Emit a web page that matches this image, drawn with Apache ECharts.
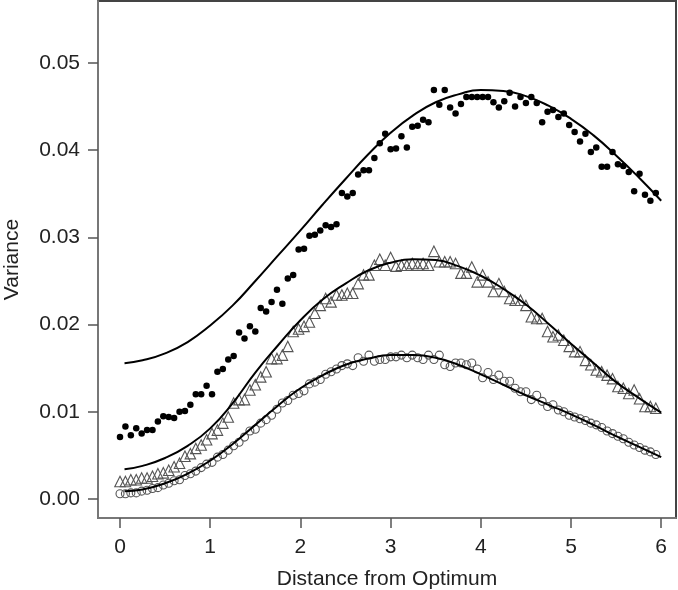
<!DOCTYPE html>
<html>
<head>
<meta charset="utf-8">
<script src="https://cdn.jsdelivr.net/npm/echarts@6/dist/echarts.min.js"></script>
<style>html,body{margin:0;padding:0;background:#fff;}#c{width:678px;height:590px;}</style>
</head>
<body>
<div id="c"></div>
<script>
// Tick labels
const xTicks = [0, 1, 2, 3, 4, 5, 6];
const yTicks = [0.00, 0.01, 0.02, 0.03, 0.04, 0.05];

// Observation positions (distance from optimum)
const xPts = [0.00,0.06,0.12,0.18,0.24,0.30,0.36,0.42,0.48,0.54,
  0.60,0.66,0.72,0.78,0.84,0.90,0.96,1.02,1.08,1.14,
  1.20,1.26,1.32,1.38,1.44,1.50,1.56,1.62,1.68,1.74,
  1.80,1.86,1.92,1.98,2.04,2.10,2.16,2.22,2.28,2.34,
  2.40,2.46,2.52,2.58,2.64,2.70,2.76,2.82,2.88,2.94,
  3.00,3.06,3.12,3.18,3.24,3.30,3.36,3.42,3.48,3.54,
  3.60,3.66,3.72,3.78,3.84,3.90,3.96,4.02,4.08,4.14,
  4.20,4.26,4.32,4.38,4.44,4.50,4.56,4.62,4.68,4.74,
  4.80,4.86,4.92,4.98,5.04,5.10,5.16,5.22,5.28,5.34,
  5.40,5.46,5.52,5.58,5.64,5.70,5.76,5.82,5.88,5.94];

// Filled dots
const dotVals = [0.0071,0.0083,0.0073,0.0081,0.0075,0.0079,0.0079,0.0089,0.0095,0.0094,
  0.0093,0.0100,0.0101,0.0108,0.0120,0.0120,0.0130,0.0120,0.0146,0.0149,
  0.0160,0.0164,0.0191,0.0184,0.0198,0.0192,0.0219,0.0215,0.0226,0.0240,
  0.0224,0.0253,0.0257,0.0286,0.0287,0.0302,0.0303,0.0308,0.0314,0.0312,
  0.0315,0.0351,0.0347,0.0351,0.0372,0.0377,0.0377,0.0391,0.0408,0.0419,
  0.0401,0.0402,0.0416,0.0403,0.0427,0.0428,0.0435,0.0432,0.0469,0.0452,
  0.0469,0.0449,0.0442,0.0453,0.0461,0.0461,0.0461,0.0461,0.0461,0.0455,
  0.0449,0.0456,0.0466,0.0450,0.0461,0.0454,0.0461,0.0454,0.0432,0.0444,
  0.0446,0.0438,0.0442,0.0429,0.0421,0.0410,0.0419,0.0398,0.0403,0.0381,
  0.0381,0.0398,0.0384,0.0382,0.0375,0.0353,0.0373,0.0349,0.0342,0.0351];

// Open triangles
const triVals = [0.0020,0.0020,0.0022,0.0022,0.0024,0.0024,0.0026,0.0029,0.0030,0.0033,
  0.0037,0.0041,0.0049,0.0052,0.0058,0.0062,0.0068,0.0075,0.0079,0.0087,
  0.0094,0.0110,0.0114,0.0114,0.0125,0.0131,0.0140,0.0146,0.0161,0.0161,
  0.0165,0.0175,0.0192,0.0195,0.0198,0.0203,0.0213,0.0222,0.0230,0.0226,
  0.0234,0.0234,0.0236,0.0236,0.0247,0.0257,0.0257,0.0268,0.0275,0.0268,
  0.0277,0.0267,0.0268,0.0268,0.0270,0.0268,0.0270,0.0268,0.0284,0.0272,
  0.0272,0.0272,0.0270,0.0259,0.0259,0.0266,0.0249,0.0257,0.0249,0.0238,
  0.0247,0.0238,0.0230,0.0228,0.0228,0.0222,0.0209,0.0207,0.0207,0.0192,
  0.0186,0.0188,0.0182,0.0175,0.0169,0.0169,0.0159,0.0154,0.0148,0.0146,
  0.0142,0.0138,0.0129,0.0127,0.0121,0.0125,0.0115,0.0106,0.0106,0.0104];

// Open circles
const circVals = [0.0006,0.0006,0.0007,0.0007,0.0009,0.0010,0.0012,0.0013,0.0016,0.0018,
  0.0021,0.0022,0.0027,0.0029,0.0032,0.0036,0.0040,0.0042,0.0048,0.0051,
  0.0056,0.0061,0.0065,0.0071,0.0078,0.0080,0.0087,0.0091,0.0096,0.0103,
  0.0110,0.0113,0.0119,0.0121,0.0124,0.0132,0.0134,0.0137,0.0143,0.0146,
  0.0149,0.0153,0.0155,0.0153,0.0162,0.0158,0.0165,0.0158,0.0160,0.0160,
  0.0163,0.0163,0.0165,0.0162,0.0165,0.0162,0.0160,0.0165,0.0160,0.0165,
  0.0154,0.0152,0.0156,0.0156,0.0154,0.0156,0.0149,0.0139,0.0145,0.0137,
  0.0142,0.0135,0.0135,0.0127,0.0123,0.0123,0.0114,0.0119,0.0112,0.0106,
  0.0108,0.0102,0.0100,0.0096,0.0094,0.0092,0.0090,0.0087,0.0085,0.0082,
  0.0078,0.0075,0.0072,0.0069,0.0065,0.0062,0.0059,0.0056,0.0054,0.0051];

// Fitted curves
const xCurve = [0.05,0.25,0.5,0.75,1.0,1.25,1.5,1.75,2.0,2.25,2.5,2.75,3.0,
  3.25,3.5,3.75,4.0,4.25,4.5,4.75,5.0,5.25,5.5,5.75,6.0];
const fitDots = [0.01556,0.0159,0.0167,0.0180,0.0199,0.0222,0.0250,0.0279,0.0308,0.0338,0.0367,0.0395,0.0420,
  0.0440,0.0455,0.0464,0.0469,0.0468,0.0462,0.0451,0.0436,0.0417,0.0394,0.0369,0.0342];
const fitTri = [0.0034,0.0038,0.0047,0.0061,0.0081,0.0110,0.0145,0.0176,0.0205,0.0229,0.0247,0.0262,0.0271,
  0.0275,0.0274,0.0267,0.0256,0.0241,0.0223,0.0201,0.0178,0.0156,0.0134,0.0116,0.0099];
const fitCirc = [0.0009,0.0011,0.0018,0.0029,0.0044,0.0063,0.0085,0.0107,0.0127,0.0142,0.0154,0.0161,0.0165,
  0.0165,0.0162,0.0154,0.0143,0.0131,0.0119,0.0108,0.0097,0.0085,0.0072,0.0060,0.0048];

const zip = (xs, ys) => xs.map((x, i) => [x, ys[i]]);
const FONT = 'Liberation Sans';

const chart = echarts.init(document.getElementById('c'), null, {renderer: 'canvas'});
chart.setOption({
  animation: false,
  backgroundColor: '#fff',
  grid: {left: 98, top: 1, right: 2, bottom: 72, containLabel: false, outerBoundsMode: 'none',
    show: true, borderColor: '#444', borderWidth: 2, backgroundColor: 'transparent'},
  xAxis: {
    type: 'value', min: -0.244, max: 6.164,
    name: 'Distance from Optimum', nameLocation: 'middle', nameGap: 51,
    nameTextStyle: {fontFamily: FONT, fontSize: 21, color: '#222'},
    axisLine: {show: true, onZero: false, lineStyle: {color: '#777', width: 2}},
    axisTick: {show: true, length: 10, customValues: xTicks, lineStyle: {color: '#555', width: 1.5}},
    axisLabel: {customValues: xTicks, margin: 19, fontFamily: FONT, fontSize: 21, color: '#222', formatter: v => String(v)},
    splitLine: {show: false}
  },
  yAxis: {
    type: 'value', min: -0.00218, max: 0.05711,
    name: 'Variance', nameLocation: 'middle', nameGap: 75, nameRotate: 90,
    nameTextStyle: {fontFamily: FONT, fontSize: 21, color: '#222'},
    axisLine: {show: true, onZero: false, lineStyle: {color: '#777', width: 2}},
    axisTick: {show: true, length: 10, customValues: yTicks, lineStyle: {color: '#555', width: 1.5}},
    axisLabel: {customValues: yTicks, margin: 18, fontFamily: FONT, fontSize: 21, color: '#222', formatter: v => v.toFixed(2)},
    splitLine: {show: false}
  },
  series: [
    {type: 'scatter', data: zip(xPts, circVals), symbol: 'circle', symbolSize: 8,
      itemStyle: {color: 'rgba(255,255,255,0)', borderColor: '#555', borderWidth: 1.1, opacity: 1}, z: 2},
    {type: 'scatter', data: zip(xPts, triVals), symbol: 'triangle', symbolSize: 10.5,
      itemStyle: {color: 'rgba(255,255,255,0)', borderColor: '#555', borderWidth: 1.1, opacity: 1}, z: 2},
    {type: 'scatter', data: zip(xPts, dotVals), symbol: 'circle', symbolSize: 6.5,
      itemStyle: {color: '#000', opacity: 1}, z: 2},
    {type: 'line', data: zip(xCurve, fitDots), smooth: 0.5, showSymbol: false, lineStyle: {color: '#000', width: 2}, z: 3},
    {type: 'line', data: zip(xCurve, fitTri), smooth: 0.5, showSymbol: false, lineStyle: {color: '#000', width: 2}, z: 3},
    {type: 'line', data: zip(xCurve, fitCirc), smooth: 0.5, showSymbol: false, lineStyle: {color: '#000', width: 2}, z: 3}
  ]
});
</script>
</body>
</html>
